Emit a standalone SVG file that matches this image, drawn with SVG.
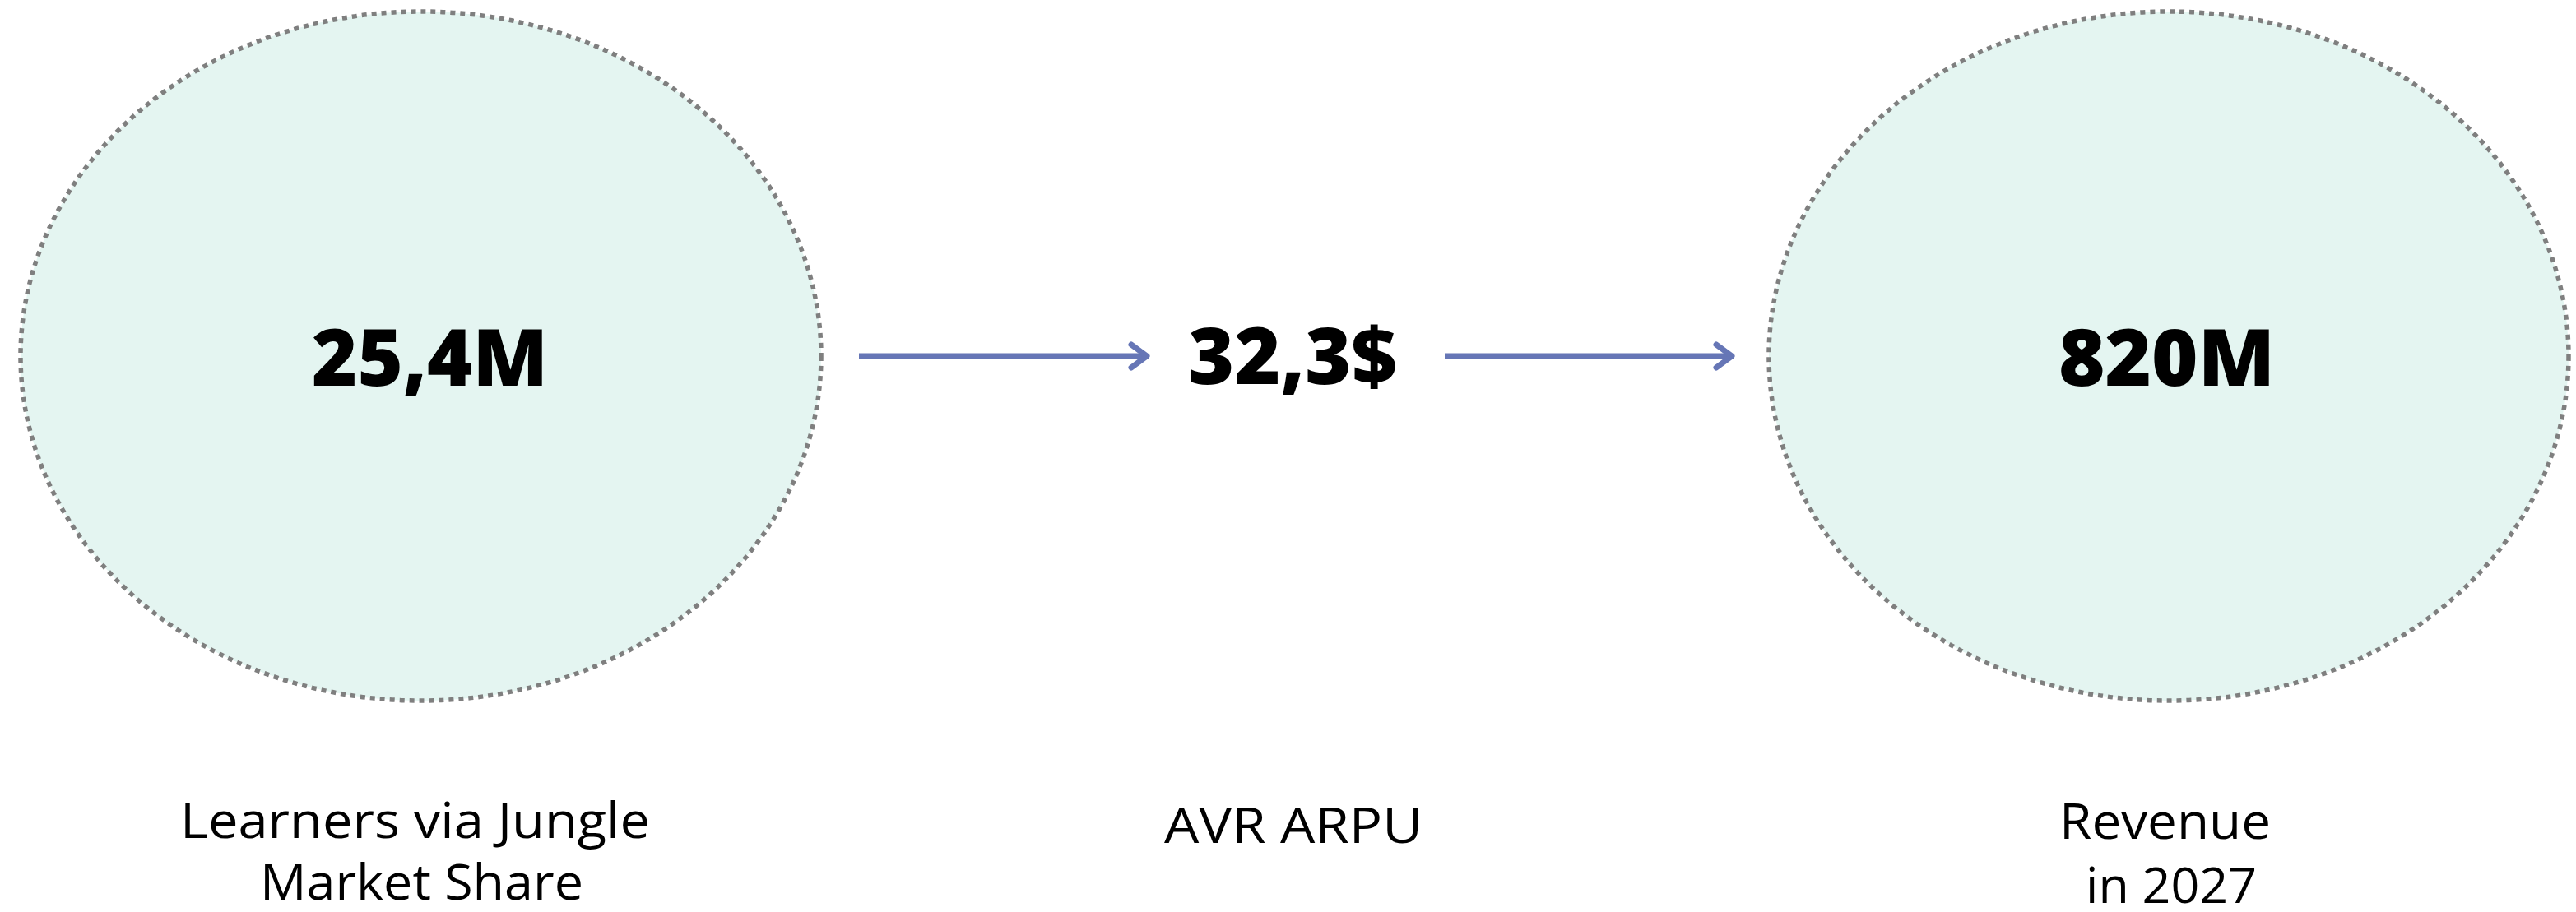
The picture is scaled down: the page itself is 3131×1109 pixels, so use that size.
<svg xmlns="http://www.w3.org/2000/svg" width="3131" height="1109" viewBox="0 0 3131 1109">
  <style>
    .bubble { fill: #e4f5f1; stroke: #7f7f7f; stroke-width: 5.5; stroke-dasharray: 6 6; }
    .value { font-family: "Open Sans", "Liberation Sans", sans-serif; font-weight: 800; font-size: 96px; fill: #000; }
    .caption { font-family: "Open Sans", "Liberation Sans", sans-serif; font-weight: 400; font-size: 60px; fill: #000; }
    .link { stroke: #6676b6; stroke-width: 7; fill: none; }
  </style>
  <defs>
    <marker id="chevron" markerUnits="userSpaceOnUse" viewBox="-26 -20 32 40" markerWidth="32" markerHeight="40" refX="0" refY="0" orient="auto">
      <path d="M-19,-14 L0,0 L-19,14" fill="none" stroke="#6676b6" stroke-width="7" stroke-linecap="round" stroke-linejoin="round"/>
    </marker>
  </defs>

  <rect width="3131" height="1109" fill="#ffffff"/>

  <g id="learners">
    <ellipse class="bubble" cx="511.5" cy="433" rx="486.5" ry="419"/>
    <text class="value" x="379" y="469" textLength="287" lengthAdjust="spacingAndGlyphs">25,4M</text>
    <text class="caption" x="219" y="1019" textLength="571" lengthAdjust="spacingAndGlyphs">Learners via Jungle</text>
    <text class="caption" x="316" y="1094" textLength="393" lengthAdjust="spacingAndGlyphs">Market Share</text>
  </g>

  <g id="arpu">
    <text class="value" x="1444" y="467" textLength="254" lengthAdjust="spacingAndGlyphs">32,3$</text>
    <text class="caption" x="1415" y="1025" textLength="314" lengthAdjust="spacingAndGlyphs">AVR ARPU</text>
  </g>

  <g id="revenue">
    <ellipse class="bubble" cx="2636" cy="433" rx="486" ry="419"/>
    <text class="value" x="2502" y="469" textLength="263" lengthAdjust="spacingAndGlyphs">820M</text>
    <text class="caption" x="2503" y="1020" textLength="257" lengthAdjust="spacingAndGlyphs">Revenue</text>
    <text class="caption" x="2535" y="1098" textLength="208" lengthAdjust="spacingAndGlyphs">in 2027</text>
  </g>

  <g id="connectors">
    <line class="link" x1="1044" y1="433" x2="1394" y2="433" marker-end="url(#chevron)"/>
    <line class="link" x1="1756" y1="433" x2="2105" y2="433" marker-end="url(#chevron)"/>
  </g>
</svg>
